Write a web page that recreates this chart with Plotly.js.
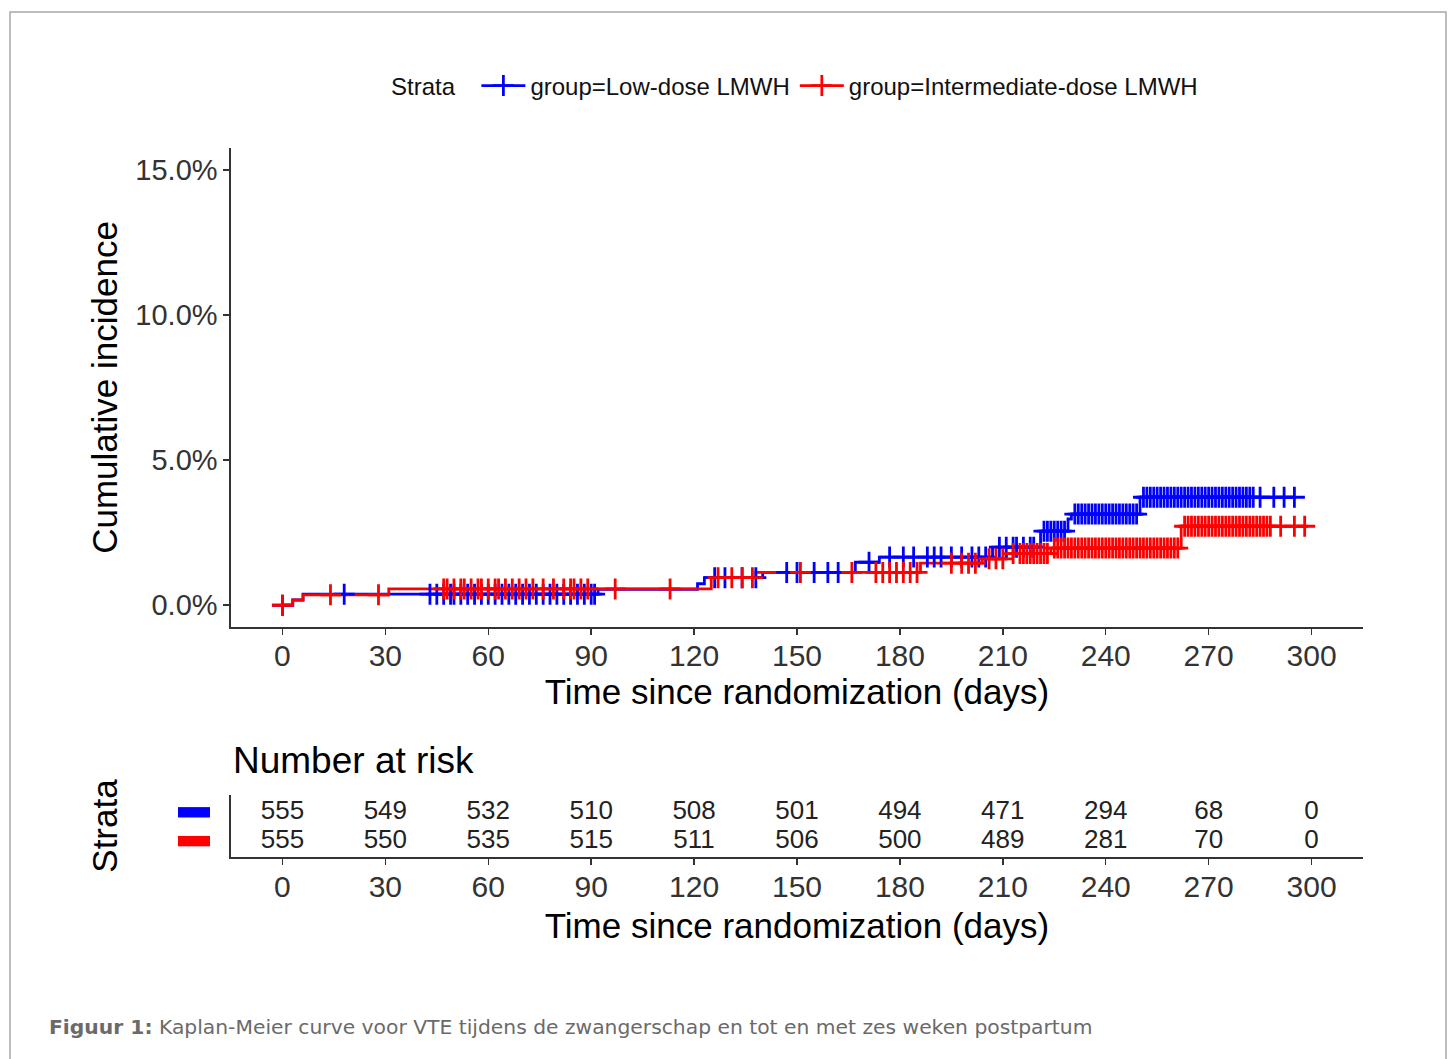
<!DOCTYPE html>
<html><head><meta charset="utf-8">
<script src="https://cdn.plot.ly/plotly-3.0.1.min.js"></script>
<style>html,body{margin:0;padding:0;background:#fff;} #chart{width:1453px;height:1059px;}</style>
</head><body><div id="chart"></div>
<script>
// ---------- data ----------
const groupNames = ['group=Low-dose LMWH', 'group=Intermediate-dose LMWH'];

// step times (days) and cumulative incidence (%) after each step
const lowTimes = [0, 3, 6, 92, 121, 123, 140, 167, 174, 207, 221, 229, 230, 250];
const lowCum   = [0, 0.18, 0.38, 0.55, 0.74, 0.95, 1.13, 1.48, 1.66, 2.0, 2.55, 2.97, 3.14, 3.72];
const lowEnd = 295;

const intTimes = [0, 3, 6, 31, 125, 138, 186, 204, 211, 224, 262];
const intCum   = [0, 0.18, 0.36, 0.56, 0.95, 1.13, 1.45, 1.6, 1.78, 1.97, 2.72];
const intEnd = 299;

// censoring times (days)
const lowCensor = [0, 18, 43, 45, 47, 49, 50, 52, 54, 56, 58, 60, 62, 64, 66, 68, 70, 72, 74, 76, 78, 80, 82, 84, 86, 88, 90, 91,
  126, 129, 134, 138, 147, 150, 155, 159, 162, 171, 177, 181, 184, 188, 190, 192, 195, 198, 201, 203, 205,
  209, 211, 213, 214, 216, 218, 219,
  222, 223, 224, 225, 226, 227, 228,
  231, 232, 233, 234, 235, 236, 237, 238, 239, 240, 241, 242, 243, 244, 245, 246, 247, 248, 249,
  251, 252, 253, 254, 255, 256, 257, 258, 259, 260, 261, 262, 263, 264, 265, 266, 267, 268, 269, 270,
  271, 272, 273, 274, 275, 276, 277, 278, 279, 280, 281, 282, 283, 285, 289, 292, 295];
const intCensor = [0, 14, 28, 47, 48, 50, 52, 53, 55, 57, 58, 60, 62, 63, 65, 67, 69, 71, 73, 76, 79, 82, 84, 85, 87, 89, 97, 113,
  127, 131, 134, 137, 151, 166, 173, 175, 177, 179, 181, 183, 185, 195, 198, 200, 202, 206, 208, 210,
  213, 215, 216, 217, 218, 219, 220, 221, 222, 223, 225, 226, 227, 228, 229, 230, 231, 232, 233, 234, 235, 236,
  237, 238, 239, 240, 241, 242, 243, 244, 245, 246, 247, 248, 249, 250, 251, 252, 253, 254, 255, 256, 257, 258,
  259, 260, 261, 263, 264, 265, 266, 267, 268, 269, 270, 271, 272, 273, 274, 275, 276, 277, 278, 279, 280,
  281, 282, 283, 284, 285, 286, 287, 288, 291, 295, 298];

// number at risk table
const riskTimes = [0, 30, 60, 90, 120, 150, 180, 210, 240, 270, 300];
const riskLow = [555, 549, 532, 510, 508, 501, 494, 471, 294, 68, 0];
const riskInt = [555, 550, 535, 515, 511, 506, 500, 489, 281, 70, 0];

const yTickVals = [0, 5, 10, 15];
const yTickText = ['0.0%', '5.0%', '10.0%', '15.0%'];

// ---------- helpers ----------
function stepAt(times, cum, t) {
  let v = cum[0];
  for (let i = 0; i < times.length; i++) { if (times[i] <= t) v = cum[i]; }
  return v;
}
function interleave(arr) { const out = []; arr.forEach(v => { out.push(v); out.push(null); }); return out; }

const blue = '#0000ff', red = '#ff0000';

function lineTrace(times, cum, end, color) {
  return {
    x: times.concat([end]), y: cum.concat([cum[cum.length - 1]]),
    type: 'scatter', mode: 'lines', line: {shape: 'hv', color: color, width: 2.8},
    showlegend: false, hoverinfo: 'skip', xaxis: 'x', yaxis: 'y'
  };
}
function censorTrace(name, cens, times, cum, color) {
  const ys = cens.map(t => stepAt(times, cum, t));
  return {
    x: interleave(cens), y: interleave(ys), name: name,
    type: 'scatter', mode: 'lines+markers', connectgaps: false,
    line: {color: color, width: 2.8},
    marker: {symbol: 'cross-thin', size: 15, line: {color: color, width: 2.8}, color: color},
    xaxis: 'x', yaxis: 'y'
  };
}

const traces = [
  lineTrace(lowTimes, lowCum, lowEnd, blue),
  lineTrace(intTimes, intCum, intEnd, red),
  censorTrace(groupNames[0], lowCensor, lowTimes, lowCum, blue),
  censorTrace(groupNames[1], intCensor, intTimes, intCum, red),
  {
    x: riskTimes.concat(riskTimes),
    y: riskTimes.map(() => 2).concat(riskTimes.map(() => 1)),
    text: riskLow.concat(riskInt).map(String),
    type: 'scatter', mode: 'text', textposition: 'middle center',
    textfont: {family: 'Liberation Sans, Arial, sans-serif', size: 26, color: '#222'},
    showlegend: false, hoverinfo: 'skip', xaxis: 'x2', yaxis: 'y2'
  }
];

const axisCommon = {
  range: [-15, 315], tickvals: riskTimes, ticks: 'outside', ticklen: 6, tickwidth: 1.5, tickcolor: '#333',
  showline: true, linecolor: '#333', linewidth: 1.6, showgrid: false, zeroline: false,
  tickfont: {size: 30, color: '#333'}
};
const plotW = 1453 - 231 - 90, plotH = 1059 - 148 - 202;
const px = x => (x - 231) / plotW;          // pixel -> paper x
const py = y => (857 - y) / plotH;          // pixel -> paper y

const layout = {
  width: 1453, height: 1059,
  paper_bgcolor: '#ffffff', plot_bgcolor: '#ffffff',
  margin: {l: 231, r: 90, t: 148, b: 202},
  font: {family: 'Liberation Sans, Arial, sans-serif', color: '#000'},
  showlegend: true,
  legend: {
    orientation: 'h', x: px(796), xanchor: 'center', y: py(86), yanchor: 'middle',
    font: {size: 24, color: '#111'}, title: {text: 'Strata  ', side: 'left', font: {size: 24}},
    bgcolor: 'rgba(0,0,0,0)', itemwidth: 44, traceorder: 'normal'
  },
  xaxis: Object.assign({}, axisCommon, {
    domain: [0, 1], anchor: 'y', ticklabelstandoff: -5,
    title: {text: 'Time since randomization (days)', font: {size: 35, color: '#000'}, standoff: 8}
  }),
  yaxis: {
    domain: [py(627), 1], anchor: 'x', range: [-0.75, 15.75],
    tickmode: 'array', tickvals: yTickVals, ticktext: yTickText,
    ticks: 'outside', ticklen: 6, tickwidth: 1.5, tickcolor: '#333',
    showline: true, linecolor: '#333', linewidth: 1.6, showgrid: false, zeroline: false,
    tickfont: {size: 29, color: '#333'},
    title: {text: 'Cumulative incidence', font: {size: 35, color: '#000'}, standoff: 7}
  },
  xaxis2: Object.assign({}, axisCommon, {
    domain: [0, 1], anchor: 'y2', ticklabelstandoff: -4,
    title: {text: 'Time since randomization (days)', font: {size: 35, color: '#000'}, standoff: 12}
  }),
  yaxis2: {
    domain: [0, py(795)], anchor: 'x2', range: [0.45, 2.6],
    showticklabels: false, ticks: '', showline: true, linecolor: '#333', linewidth: 1.6,
    showgrid: false, zeroline: false,
    title: {text: 'Strata', font: {size: 35, color: '#000'}, standoff: 101}
  },
  shapes: [
    {type: 'rect', xref: 'paper', yref: 'y2', x0: px(178), x1: px(210), y0: 1.82, y1: 2.18,
     fillcolor: blue, line: {width: 0}},
    {type: 'rect', xref: 'paper', yref: 'y2', x0: px(178), x1: px(210), y0: 0.82, y1: 1.18,
     fillcolor: red, line: {width: 0}},
    {type: 'rect', xref: 'paper', yref: 'paper', x0: px(10), x1: px(1446), y0: py(1080), y1: py(12),
     line: {color: '#a8a8a8', width: 1.5}, fillcolor: 'rgba(0,0,0,0)', layer: 'below'}
  ],
  annotations: [
    {text: 'Number at risk', xref: 'paper', yref: 'paper', x: 0, xanchor: 'left', y: py(760), yanchor: 'middle',
     showarrow: false, font: {size: 37, color: '#000'}},
    {text: '<b>Figuur 1:</b> Kaplan-Meier curve voor VTE tijdens de zwangerschap en tot en met zes weken postpartum',
     xref: 'paper', yref: 'paper', x: px(47), xanchor: 'left', y: py(1027), yanchor: 'middle',
     showarrow: false, font: {family: 'DejaVu Sans, sans-serif', size: 20.3, color: '#6a6a6a'}}
  ]
};

Plotly.newPlot('chart', traces, layout, {displayModeBar: false, staticPlot: true});
</script>
</body></html>
